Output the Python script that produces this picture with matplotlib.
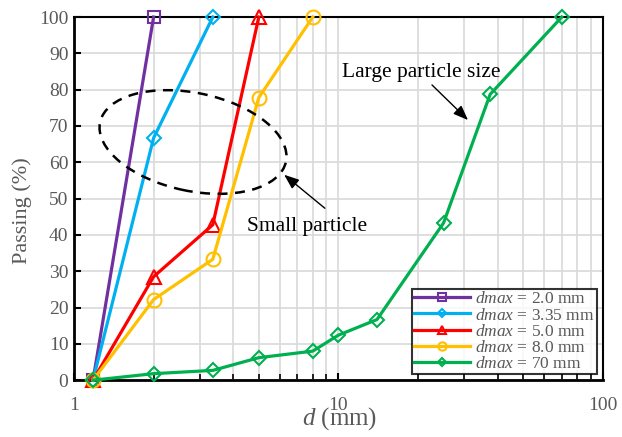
import matplotlib
matplotlib.use("Agg")
import matplotlib.pyplot as plt
from matplotlib.patches import Ellipse
from matplotlib.ticker import FixedLocator, NullFormatter, LogLocator

plt.rcParams['font.family'] = ['Liberation Serif', 'DejaVu Serif']
plt.rcParams['mathtext.fontset'] = 'custom'
plt.rcParams['mathtext.rm'] = 'Liberation Serif'
plt.rcParams['mathtext.it'] = 'Liberation Serif:italic'

labels = ["2.0 mm", "3.35 mm", "5.0 mm", "8.0 mm", "70 mm"]
sizes_20 = [1.18, 2.0]
pass_20 = [0, 100]
sizes_335 = [1.18, 2.0, 3.35]
pass_335 = [0, 66.7, 100]
sizes_50 = [1.18, 2.0, 3.35, 5.0]
pass_50 = [0, 28.5, 42.8, 100]
sizes_80 = [1.18, 2.0, 3.35, 5.0, 8.0]
pass_80 = [0, 22.2, 33.3, 77.8, 100]
sizes_70 = [1.18, 2.0, 3.35, 5.0, 8.0, 10, 14, 25, 37.5, 70]
pass_70 = [0, 1.8, 2.7, 6.2, 8.0, 12.4, 16.7, 43.3, 78.7, 100]

colors = ["#7030A0", "#00B0F0", "#FF0000", "#FFC000", "#00B050"]
markers = ["s", "D", "^", "o", "D"]
msizes = [9, 7, 10, 10, 7]
gray = "#595959"

fig = plt.figure(figsize=(6.22, 4.37), dpi=100)
ax = fig.add_axes([0.119, 0.130, 0.850, 0.831])

series = [(sizes_20, pass_20), (sizes_335, pass_335), (sizes_50, pass_50),
          (sizes_80, pass_80), (sizes_70, pass_70)]
for (x, y), c, m, ms, lab in zip(series, colors, markers, msizes, labels):
    ax.plot(x, y, color=c, lw=2.3, marker=m, ms=ms, mfc='none', mec=c, mew=1.5,
            label=r'$\it{dmax}$ = ' + lab, zorder=3, clip_on=False)

ax.set_xscale('log')
ax.set_xlim(1, 100)
ax.set_ylim(0, 100)
ax.set_yticks(range(0, 101, 10))
ax.xaxis.set_major_locator(FixedLocator([1, 10, 100]))
ax.set_xticklabels(['1', '10', '100'])
ax.xaxis.set_minor_locator(LogLocator(base=10, subs=range(2, 10)))
ax.xaxis.set_minor_formatter(NullFormatter())
ax.grid(True, which='both', axis='x', color='#D9D9D9', lw=1.2, zorder=0)
ax.grid(True, which='major', axis='y', color='#D9D9D9', lw=1.2, zorder=0)
ax.set_axisbelow(True)

for s in ax.spines.values():
    s.set_linewidth(2.0)
    s.set_color('black')
ax.spines['top'].set_linewidth(1.5)
ax.spines['right'].set_linewidth(1.5)

ax.tick_params(axis='both', which='major', direction='in', length=5, width=1.5,
               labelsize=14, labelcolor=gray, color='black')
ax.tick_params(axis='x', which='minor', direction='in', length=4, width=1.2)
ax.tick_params(axis='y', pad=4)
ax.tick_params(axis='x', pad=12)

ax.set_ylabel('Passing (%)', fontsize=16, color=gray)
ax.yaxis.set_label_coords(-0.080, 0.468)
ax.set_xlabel(r'$\it{d}$ (mm)', fontsize=18, color=gray)
ax.xaxis.set_label_coords(0.502, -0.068)

leg = ax.legend(loc='lower right', fontsize=12.5, frameon=True, fancybox=False,
                edgecolor='black', handlelength=3.2, handletextpad=0.3,
                borderpad=0.12, labelspacing=0.0, borderaxespad=0.35,
                markerscale=0.6)
leg.get_frame().set_linewidth(1.5)
for t in leg.get_texts():
    t.set_color(gray)

# Dashed ellipse around small particle curves (figure inches)
ell = Ellipse((1.93, 4.37 - 1.42), 1.90, 0.98, angle=-12,
              transform=fig.dpi_scale_trans, fill=False, ls=(0, (4, 3)),
              lw=1.8, color='black', zorder=4)
fig.patches.append(ell)
ell.set_figure(fig)

def px(xp, yp):
    return (xp / 622, 1 - yp / 437)

ax.annotate('', xy=px(282, 173), xycoords='figure fraction',
            xytext=px(327, 210), textcoords='figure fraction',
            arrowprops=dict(arrowstyle='-|>,head_length=0.9,head_width=0.35',
                            color='black', lw=1.0))
fig.text(*px(247, 227), 'Small particle', fontsize=15.5, ha='left', va='center')

ax.annotate('', xy=px(470, 122), xycoords='figure fraction',
            xytext=px(430, 83), textcoords='figure fraction',
            arrowprops=dict(arrowstyle='-|>,head_length=0.9,head_width=0.35',
                            color='black', lw=1.0))
fig.text(*px(342, 72), 'Large particle size', fontsize=15.5, ha='left', va='center')

fig.savefig('out.png', dpi=100)
